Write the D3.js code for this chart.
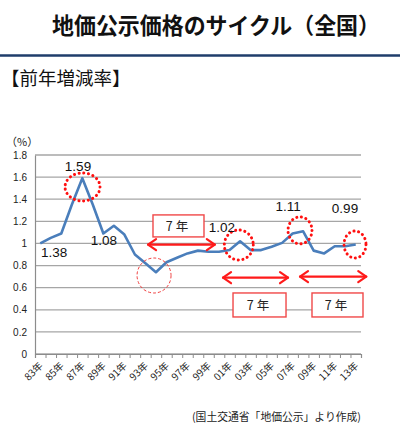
<!DOCTYPE html>
<html>
<head>
<meta charset="utf-8">
<script src="https://cdn.jsdelivr.net/npm/d3@7"></script>
<style>
  body { margin: 0; background: #fff; }
  svg { display: block; font-family: "Liberation Sans", Arial, "Noto Sans CJK JP", sans-serif; }
  .jp { font-family: "Noto Sans CJK JP", sans-serif; }
</style>
</head>
<body>
<svg id="chart" width="400" height="436"></svg>
<script>
// 年次 (1983〜2013)
const years = d3.range(1983, 2014);
// 前年増減率の指数 (%)
const rates = [1.00, 1.05, 1.09, 1.35, 1.59, 1.35, 1.09, 1.16, 1.08, 0.90,
               0.82, 0.74, 0.83, 0.87, 0.91, 0.935, 0.925, 0.925, 0.94, 1.02,
               0.94, 0.94, 0.97, 1.005, 1.09, 1.11, 0.935, 0.91, 0.975, 0.975, 0.99];
const yTicks = [0, 0.2, 0.4, 0.6, 0.8, 1, 1.2, 1.4, 1.6, 1.8];
const xTickLabels = years.filter((d, i) => i % 2 === 0);

// 数値ラベル [テキスト, 位置(年インデックス), 値]
const valueLabels = [
  ["1.38", 1.32, 0.915], ["1.59", 3.59, 1.70], ["1.08", 6.06, 1.023],
  ["1.02", 17.28, 1.14], ["1.11", 23.56, 1.33], ["0.99", 28.98, 1.312]
];
// 丸印 [中心インデックス, 中心値, rx, ry, 種類]
const circles = [
  [4.02, 1.511, 17.5, 14, "dot"], [10.82, 0.71, 17, 17.5, "dash"],
  [18.88, 0.986, 14.5, 15, "dot"], [24.7, 1.118, 12, 13.5, "dot"],
  [29.93, 0.99, 11, 13.5, "dot"]
];
// 矢印 [始点インデックス, 終点インデックス, 値]
const arrows = [[10.25, 16.6, 0.99], [17.38, 23.56, 0.69], [24.7, 31.0, 0.70]];
// 「7年」枠 [左, 右, 上値, 下値]
const boxes = [[10.72, 15.57, 1.258, 1.059], [18.33, 23.37, 0.552, 0.335], [25.84, 30.69, 0.552, 0.335]];

const svg = d3.select("#chart");
const plotL = 35, plotR = 361, plotT = 155, plotB = 354;

const x = d3.scaleBand().domain(years).range([plotL, plotR]).padding(0);
const xi = d3.scaleLinear().domain([-0.5, years.length - 0.5]).range([plotL, plotR]);
const y = d3.scaleLinear().domain([0, 1.8]).range([plotB, plotT]);

// タイトル
svg.append("text").attr("class", "jp")
  .attr("x", 216).attr("y", 34).attr("text-anchor", "middle")
  .attr("font-size", 22.5).attr("font-weight", "bold").attr("fill", "#111")
  .attr("textLength", 328).attr("lengthAdjust", "spacingAndGlyphs")
  .text("地価公示価格のサイクル（全国）");
svg.append("line").attr("x1", 0).attr("x2", 400).attr("y1", 55.5).attr("y2", 55.5)
  .attr("stroke", "#1f3d6b").attr("stroke-width", 2.5);
svg.append("text").attr("class", "jp")
  .attr("x", 1).attr("y", 85).attr("font-size", 18.5).attr("fill", "#111")
  .text("【前年増減率】");

// 目盛線
svg.append("g").selectAll("line").data(yTicks).join("line")
  .attr("x1", plotL).attr("x2", plotR)
  .attr("y1", d => y(d)).attr("y2", d => y(d))
  .attr("stroke", "#a6a6a6").attr("stroke-width", 1.3);

// Y軸
const yAxis = svg.append("g").attr("transform", `translate(${plotL},0)`)
  .call(d3.axisLeft(y).tickValues(yTicks).tickSize(0).tickPadding(8).tickFormat(d => d3.format("")(+d.toFixed(1))));
yAxis.select(".domain").attr("stroke", "#8c8c8c").attr("stroke-width", 1.2);
yAxis.selectAll("text").attr("font-size", 10).attr("fill", "#222")
  .attr("font-family", "'Liberation Sans', Arial, sans-serif");
svg.append("text").attr("class", "jp").attr("x", 6).attr("y", 146)
  .attr("font-size", 11).attr("fill", "#222").text("（%）");

// X軸
const xAxis = svg.append("g").attr("transform", `translate(0,${plotB})`)
  .call(d3.axisBottom(xi).tickValues(d3.range(-0.5, years.length, 1)).tickSize(4).tickFormat(""));
xAxis.select(".domain").attr("stroke", "#8c8c8c").attr("stroke-width", 1.2);
xAxis.selectAll(".tick line").attr("stroke", "#8c8c8c");

svg.append("g").selectAll("text").data(xTickLabels).join("text")
  .attr("class", "jp")
  .attr("transform", d => `translate(${x(d) + x.bandwidth() / 2 - 2},${plotB + 7}) rotate(-45)`)
  .attr("text-anchor", "end").attr("dy", "0.75em")
  .attr("font-size", 10).attr("fill", "#222")
  .text(d => String(d).slice(2) + "年");

// 折れ線
const line = d3.line().x((d, i) => x(years[i]) + x.bandwidth() / 2).y(d => y(d));
svg.append("path").datum(rates)
  .attr("fill", "none").attr("stroke", "#4a7ebb").attr("stroke-width", 2.6)
  .attr("stroke-linejoin", "round").attr("d", line);

// 丸印
svg.append("g").selectAll("ellipse").data(circles).join("ellipse")
  .attr("cx", d => xi(d[0])).attr("cy", d => y(d[1]))
  .attr("rx", d => d[2]).attr("ry", d => d[3])
  .attr("fill", "none").attr("stroke", d => d[4] === "dot" ? "#ff1010" : "#f04040")
  .attr("stroke-width", d => d[4] === "dot" ? 3 : 1)
  .attr("stroke-linecap", d => d[4] === "dot" ? "round" : "butt")
  .attr("stroke-dasharray", d => d[4] === "dot" ? "0.1 4.6" : "3 2");

// 矢印
const ag = svg.append("g").attr("stroke", "#ff1a1a").attr("stroke-width", 2.2).attr("fill", "none")
  .attr("stroke-linecap", "round").attr("stroke-linejoin", "round");
arrows.forEach(([a, b, v]) => {
  const x1 = xi(a), x2 = xi(b), yy = y(v);
  ag.append("line").attr("x1", x1).attr("x2", x2).attr("y1", yy).attr("y2", yy);
  ag.append("path").attr("d", `M${x1 + 8},${yy - 5.5}L${x1},${yy}L${x1 + 8},${yy + 5.5}`);
  ag.append("path").attr("d", `M${x2 - 8},${yy - 5.5}L${x2},${yy}L${x2 - 8},${yy + 5.5}`);
});

// 「7年」枠
const bg = svg.append("g").selectAll("g").data(boxes).join("g");
bg.append("rect")
  .attr("x", d => xi(d[0])).attr("y", d => y(d[2]))
  .attr("width", d => xi(d[1]) - xi(d[0])).attr("height", d => y(d[3]) - y(d[2]))
  .attr("fill", "#fff").attr("stroke", "#f04848").attr("stroke-width", 1.4);
bg.append("text").attr("class", "jp")
  .attr("x", d => (xi(d[0]) + xi(d[1])) / 2).attr("y", d => (y(d[2]) + y(d[3])) / 2)
  .attr("text-anchor", "middle").attr("dominant-baseline", "central")
  .attr("font-size", 12.5).attr("fill", "#222").attr("letter-spacing", 3)
  .text("7年");

// 数値ラベル
svg.append("g").selectAll("text").data(valueLabels).join("text")
  .attr("x", d => xi(d[1])).attr("y", d => y(d[2]))
  .attr("text-anchor", "middle").attr("dominant-baseline", "central")
  .attr("font-size", 13.5).attr("fill", "#111")
  .text(d => d[0]);

// 出典
svg.append("text").attr("class", "jp")
  .attr("x", 361).attr("y", 421).attr("text-anchor", "end")
  .attr("font-size", 10.8).attr("fill", "#222")
  .text("(国土交通省「地価公示」より作成)");
</script>
</body>
</html>
